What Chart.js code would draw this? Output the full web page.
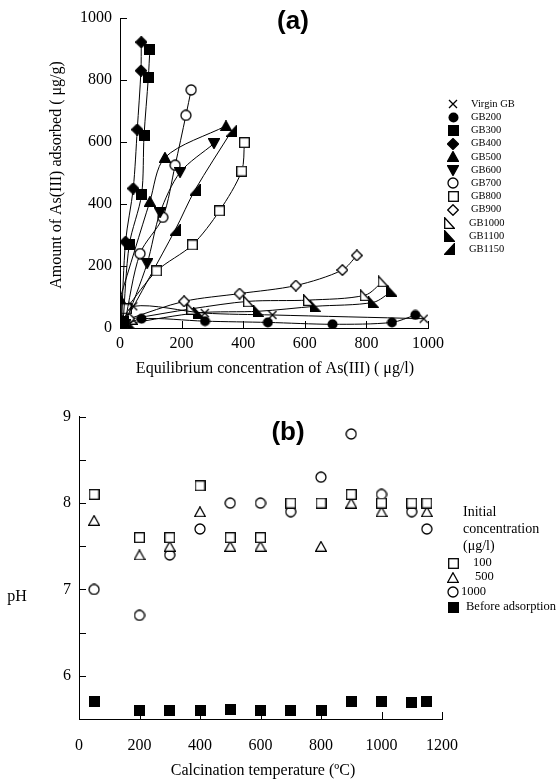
<!DOCTYPE html>
<html>
<head>
<meta charset="utf-8">
<script src="https://cdn.jsdelivr.net/npm/chart.js@4.4.0/dist/chart.umd.min.js"></script>
<style>
  html, body { margin: 0; padding: 0; background: #fff; }
  #wrap { position: relative; width: 557px; height: 780px; }
  canvas { position: absolute; left: 0; }
  #chartA { top: 0; }
  #chartB { top: 390px; }
</style>
</head>
<body>
<div id="wrap">
  <canvas id="chartA" width="557" height="390"></canvas>
  <canvas id="chartB" width="557" height="390"></canvas>
</div>
<script>
// ---- panel (a): isotherms, points are [Ce (ug/l), q (ug/g)]
const isoLabels = ['Virgin GB', 'GB200', 'GB300', 'GB400', 'GB500', 'GB600',
                   'GB700', 'GB800', 'GB900', 'GB1000', 'GB1100', 'GB1150'];
const virginGB = [[3, 5], [43, 70], [275, 48], [495, 42], [986, 30]];
const gb200 = [[10, 5], [70, 30], [276, 22], [480, 18], [690, 12], [883, 18], [959, 42]];
const gb300 = [[10, 20], [30, 268], [70, 430], [78, 620], [92, 808], [97, 900]];
const gb400 = [[5, 25], [18, 278], [43, 450], [56, 640], [68, 830], [69, 922]];
const gb500 = [[0, 95], [97, 408], [146, 550], [344, 652]];
const gb600 = [[15, 10], [88, 208], [130, 372], [195, 502], [305, 595]];
const gb700 = [[15, 15], [65, 240], [139, 357], [179, 525], [214, 686], [231, 768]];
const gb800 = [[20, 62], [119, 184], [235, 268], [323, 378], [395, 506], [404, 598]];
const gb900 = [[30, 30], [208, 86], [388, 111], [571, 137], [722, 187], [769, 234]];
const gb1000 = [[40, 30], [233, 62], [417, 86], [612, 90], [796, 106], [854, 151]];
const gb1100 = [[30, 15], [255, 49], [450, 54], [634, 70], [823, 83], [883, 119]];
const gb1150 = [[10, 8], [179, 316], [244, 446], [363, 636]];
const isoTicks = [0, 200, 400, 600, 800, 1000];

// ---- panel (b): pH vs calcination temperature
const calcTemps = [50, 200, 300, 400, 500, 600, 700, 800, 900, 1000, 1100, 1150];
const ph100 = [8.1, 7.6, 7.6, 8.2, 7.6, 7.6, 8.0, 8.0, 8.1, 8.0, 8.0, 8.0];
const ph500 = [7.8, 7.4, 7.5, 7.9, 7.5, 7.5, null, 7.5, 8.0, 7.9, null, 7.9];
const ph1000 = [7.0, 6.7, 7.4, 7.7, 8.0, 8.0, 7.9, 8.3, 8.8, 8.1, 7.9, 7.7];
const phBefore = [5.7, 5.6, 5.6, 5.6, 5.61, 5.6, 5.6, 5.6, 5.7, 5.7, 5.69, 5.7];
const phLegend = ['100', '500', '1000', 'Before adsorption'];

Chart.defaults.color = '#000';
Chart.defaults.font.family = "'Liberation Serif', 'Times New Roman', serif";

// marker images, drawn once and handed to chart.js as pointStyle
function makeMarker(w, h, draw) {
  const c = document.createElement('canvas');
  c.width = w; c.height = h;
  const g = c.getContext('2d');
  g.lineWidth = 1.3;
  g.strokeStyle = '#000';
  g.fillStyle = '#000';
  draw(g, w, h);
  return c;
}
function poly(g, pts, open) {
  g.beginPath();
  pts.forEach((p, i) => i ? g.lineTo(p[0], p[1]) : g.moveTo(p[0], p[1]));
  g.closePath();
  if (open) { g.fillStyle = '#fff'; g.fill(); g.stroke(); }
  else { g.fill(); g.stroke(); }
}
const mk = {
  cross: makeMarker(10, 10, (g, w, h) => {
    g.beginPath(); g.moveTo(1, 1); g.lineTo(w - 1, h - 1); g.moveTo(w - 1, 1); g.lineTo(1, h - 1); g.stroke();
  }),
  dot: makeMarker(11, 11, (g, w) => { g.beginPath(); g.arc(w / 2, w / 2, w / 2 - 0.5, 0, Math.PI * 2); g.fill(); }),
  box: makeMarker(11, 11, (g, w, h) => g.fillRect(0, 0, w, h)),
  diamond: makeMarker(12, 12, (g, w, h) => poly(g, [[w / 2, 0.5], [w - 0.5, h / 2], [w / 2, h - 0.5], [0.5, h / 2]])),
  triUp: makeMarker(12, 11, (g, w, h) => poly(g, [[w / 2, 0.5], [w - 0.5, h - 0.5], [0.5, h - 0.5]])),
  triDown: makeMarker(12, 11, (g, w, h) => poly(g, [[0.5, 0.5], [w - 0.5, 0.5], [w / 2, h - 0.5]])),
  ring: makeMarker(12, 12, (g, w) => {
    g.beginPath(); g.arc(w / 2, w / 2, w / 2 - 1, 0, Math.PI * 2);
    g.fillStyle = '#fff'; g.fill(); g.stroke();
  }),
  openBox: makeMarker(11, 11, (g, w, h) => { g.fillStyle = '#fff'; g.fillRect(0, 0, w, h); g.strokeRect(0.7, 0.7, w - 1.4, h - 1.4); }),
  openDiamond: makeMarker(12, 12, (g, w, h) => poly(g, [[w / 2, 0.7], [w - 0.7, h / 2], [w / 2, h - 0.7], [0.7, h / 2]], true)),
  openRight: makeMarker(11, 12, (g, w, h) => poly(g, [[0.7, 0.7], [0.7, h - 0.7], [w - 0.7, h - 0.7]], true)),
  fillRight: makeMarker(11, 12, (g, w, h) => poly(g, [[0.5, 0.5], [0.5, h - 0.5], [w - 0.5, h - 0.5]])),
  fillLeft: makeMarker(11, 12, (g, w, h) => poly(g, [[w - 0.5, 0.5], [w - 0.5, h - 0.5], [0.5, h - 0.5]])),
  openTri: makeMarker(12, 11, (g, w, h) => poly(g, [[w / 2, 0.7], [w - 0.7, h - 0.7], [0.7, h - 0.7]], true))
};

// inward tick marks (chart.js only draws them outward)
const inwardTicks = {
  id: 'inwardTicks',
  afterDraw(chart) {
    const { ctx, chartArea, scales: { x, y } } = chart;
    ctx.save();
    ctx.strokeStyle = '#000';
    ctx.lineWidth = 1;
    ctx.beginPath();
    x.ticks.forEach(t => {
      if (t.value === x.min) return;
      const px = Math.round(x.getPixelForValue(t.value)) + 0.5;
      ctx.moveTo(px, chartArea.bottom); ctx.lineTo(px, chartArea.bottom - 7);
    });
    y.ticks.forEach(t => {
      if (t.value === y.min) return;
      const py = Math.round(y.getPixelForValue(t.value)) + 0.5;
      ctx.moveTo(chartArea.left, py); ctx.lineTo(chartArea.left + 7, py);
    });
    ctx.stroke();
    ctx.restore();
  }
};

// free-standing texts: panel letter, axis titles, legend
const annotate = {
  id: 'annotate',
  afterDraw(chart, args, o) {
    const ctx = chart.ctx;
    ctx.save();
    ctx.fillStyle = '#000';
    ctx.textAlign = 'center';
    ctx.textBaseline = 'middle';
    ctx.font = "bold 26px 'Liberation Sans', Arial, sans-serif";
    ctx.fillText(o.tag[0], o.tag[1], o.tag[2]);
    ctx.font = "16px 'Liberation Serif', serif";
    ctx.fillText(o.xTitle[0], o.xTitle[1], o.xTitle[2]);
    if (o.yTitle[3]) {
      ctx.save();
      ctx.translate(o.yTitle[1], o.yTitle[2]);
      ctx.rotate(-Math.PI / 2);
      ctx.fillText(o.yTitle[0], 0, 0);
      ctx.restore();
    } else {
      ctx.fillText(o.yTitle[0], o.yTitle[1], o.yTitle[2]);
    }
    ctx.textAlign = 'left';
    (o.extra || []).forEach(t => {
      ctx.font = t[3] + "px 'Liberation Serif', serif";
      ctx.fillText(t[0], t[1], t[2]);
    });
    // legend rows use the dataset marker images
    ctx.font = o.legend.font;
    o.legend.rows.forEach(r => {
      const ds = chart.data.datasets[r.i];
      const img = ds.pointStyle;
      ctx.drawImage(img, Math.round(r.mx - img.width / 2), Math.round(r.y - img.height / 2));
      ctx.fillText(ds.label, r.tx, r.y);
    });
    ctx.restore();
  }
};

const toXY = arr => arr.map(p => ({ x: p[0], y: p[1] }));
const tickFont = { size: 16, family: "'Liberation Serif', serif" };
const plain = v => String(v);

// ---------- chart (a)
const isoData = [virginGB, gb200, gb300, gb400, gb500, gb600, gb700, gb800, gb900, gb1000, gb1100, gb1150];
const isoMarks = [mk.cross, mk.dot, mk.box, mk.diamond, mk.triUp, mk.triDown,
                  mk.ring, mk.openBox, mk.openDiamond, mk.openRight, mk.fillRight, mk.fillLeft];

new Chart(document.getElementById('chartA'), {
  type: 'scatter',
  data: {
    datasets: isoData.map((d, i) => ({
      label: isoLabels[i],
      data: toXY(d),
      showLine: true,
      borderColor: '#000',
      borderWidth: 1,
      tension: 0.3,
      pointStyle: isoMarks[i],
      pointRadius: 5,
      pointHoverRadius: 5
    }))
  },
  options: {
    responsive: false,
    animation: false,
    devicePixelRatio: 1,
    layout: { padding: { top: 18, right: 129, left: 0, bottom: 0 } },
    plugins: {
      legend: { display: false },
      tooltip: { enabled: false },
      annotate: {
        tag: ['(a)', 293, 22],
        xTitle: ['Equilibrium concentration of As(III) ( \u03bcg/l)', 275, 369],
        yTitle: ['Amount of As(III) adsorbed ( \u03bcg/g)', 57, 175, true],
        legend: {
          font: "10.5px 'Liberation Serif', serif",
          rows: isoLabels.map((_, i) => ({ i, y: 104 + i * 13.2, mx: i >= 9 ? 449 : 453, tx: i >= 9 ? 469 : 471 }))
        }
      }
    },
    scales: {
      x: {
        type: 'linear', min: 0, max: 1000,
        afterBuildTicks: s => { s.ticks = isoTicks.map(v => ({ value: v })); },
        afterFit: s => { s.height = 62; },
        grid: { display: false, drawTicks: false },
        border: { display: true, color: '#000', width: 1 },
        ticks: { font: tickFont, padding: 6, maxRotation: 0, callback: plain }
      },
      y: {
        type: 'linear', min: 0, max: 1000,
        afterBuildTicks: s => { s.ticks = isoTicks.map(v => ({ value: v })); },
        afterFit: s => { s.width = 120; },
        grid: { display: false, drawTicks: false },
        border: { display: true, color: '#000', width: 1 },
        ticks: { font: tickFont, padding: 8, callback: plain }
      }
    }
  },
  plugins: [inwardTicks, annotate]
});

// ---------- chart (b)
const phSeries = [ph100, ph500, ph1000, phBefore];
const phMarks = [mk.openBox, mk.openTri, mk.ring, mk.box];

new Chart(document.getElementById('chartB'), {
  type: 'scatter',
  data: {
    datasets: phSeries.map((s, i) => ({
      label: phLegend[i],
      data: calcTemps.map((t, k) => ({ x: t, y: s[k] })),
      showLine: false,
      pointStyle: phMarks[i],
      pointRadius: 5,
      pointHoverRadius: 5
    }))
  },
  options: {
    responsive: false,
    animation: false,
    devicePixelRatio: 1,
    layout: { padding: { top: 26.7, right: 115, left: 0, bottom: 0 } },
    plugins: {
      legend: { display: false },
      tooltip: { enabled: false },
      annotate: {
        tag: ['(b)', 288, 43],
        xTitle: ['Calcination temperature (\u00baC)', 263, 381],
        yTitle: ['pH', 17, 207, false],
        extra: [['Initial', 463, 122, 14], ['concentration', 463, 139, 14], ['(\u03bcg/l)', 463, 156, 14]],
        legend: {
          font: "12.5px 'Liberation Serif', serif",
          rows: [
            { i: 0, y: 173, mx: 453, tx: 473 },
            { i: 1, y: 187, mx: 453, tx: 475 },
            { i: 2, y: 202, mx: 453, tx: 461 },
            { i: 3, y: 217, mx: 453, tx: 466 }
          ]
        }
      }
    },
    scales: {
      x: {
        type: 'linear', min: 0, max: 1200,
        ticks: { stepSize: 200, font: tickFont, padding: 17, maxRotation: 0, callback: plain },
        afterFit: s => { s.height = 61; },
        grid: { display: false, drawTicks: false },
        border: { display: true, color: '#000', width: 1 }
      },
      y: {
        type: 'linear', min: 5.5, max: 9,
        ticks: { stepSize: 0.5, font: tickFont, padding: 8, callback: v => Number.isInteger(v) ? v : '' },
        afterFit: s => { s.width = 79; },
        grid: { display: false, drawTicks: false },
        border: { display: true, color: '#000', width: 1 }
      }
    }
  },
  plugins: [inwardTicks, annotate]
});
</script>
</body>
</html>
